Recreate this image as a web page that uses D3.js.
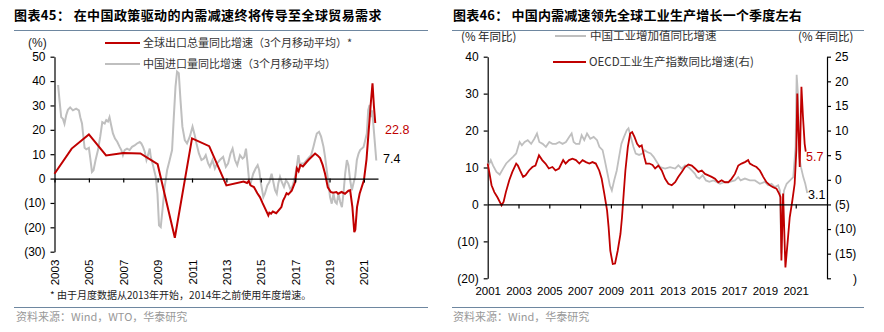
<!DOCTYPE html>
<html><head><meta charset="utf-8">
<script src="https://cdn.jsdelivr.net/npm/d3@7"></script>
<style>body{margin:0;background:#fff}</style>
</head><body>
<svg id="c" width="884" height="332"></svg>
<script>
// ---------- DATA ----------
// Left chart: global export volume yoy (3mma) — annual before 2014
const exportDates = [2003.0,2004.0,2005.0,2006.0,2007.0,2008.0,2009.0,2010.0,2011.0,2012.0,2013.0,2014.0,2014.2,2014.3,2014.4,2014.6,2014.8,2014.95,2015.1,2015.25,2015.44,2015.5,2015.6,2015.7,2015.9,2016.2,2016.3,2016.4,2016.5,2016.6,2016.8,2017.0,2017.1,2017.2,2017.3,2017.45,2017.67,2017.8,2018.16,2018.3,2018.45,2018.6,2018.74,2018.9,2019.07,2019.2,2019.4,2019.5,2019.7,2019.9,2020.1,2020.2,2020.33,2020.44,2020.5,2020.6,2020.75,2021.0,2021.15,2021.25,2021.4,2021.5,2021.58,2021.66];
const exportValues = [2,12.3,18.1,9.5,10.5,10.3,5.9,-24.3,16.5,13.3,-2.8,-1.2,-1.8,-1.0,-2.8,-3.5,-6,-7.6,-10,-12.2,-15.1,-14,-14.4,-13.5,-14.2,-11.7,-9,-7.6,-6,-6.5,-5,-1.4,4.2,3,5.6,5,6.8,7.8,10.3,9.5,8.4,5.6,2,-3.6,-5.5,-5.8,-5.5,-6.2,-5.5,-6.2,-5,-4.8,-11.7,-22,-21,-11.7,-6.2,-0.7,7.8,17,30.8,39.1,30,22.8];
// Left chart: China import volume yoy (3mma)
const importDates = [2003.21,2003.29,2003.39,2003.49,2003.58,2003.68,2003.78,2003.91,2004.07,2004.26,2004.42,2004.5,2004.6,2004.65,2004.75,2004.85,2005.0,2005.08,2005.18,2005.27,2005.39,2005.53,2005.66,2005.78,2005.92,2006.01,2006.11,2006.2,2006.3,2006.4,2006.52,2006.65,2006.79,2006.89,2006.98,2007.08,2007.22,2007.37,2007.51,2007.66,2007.8,2007.96,2008.05,2008.15,2008.25,2008.35,2008.44,2008.54,2008.6,2008.73,2008.89,2008.99,2009.08,2009.18,2009.28,2009.41,2009.55,2009.7,2009.84,2009.94,2010.04,2010.13,2010.23,2010.33,2010.44,2010.58,2010.71,2010.87,2011.03,2011.16,2011.26,2011.4,2011.55,2011.69,2011.8,2011.94,2012.04,2012.19,2012.33,2012.46,2012.62,2012.81,2012.97,2013.1,2013.24,2013.36,2013.5,2013.63,2013.79,2013.94,2014.04,2014.14,2014.21,2014.33,2014.41,2014.56,2014.7,2014.82,2014.91,2015.01,2015.15,2015.24,2015.38,2015.5,2015.63,2015.73,2015.83,2015.93,2016.02,2016.12,2016.22,2016.35,2016.47,2016.6,2016.74,2016.86,2016.99,2017.09,2017.19,2017.29,2017.38,2017.52,2017.67,2017.83,2017.93,2018.06,2018.16,2018.26,2018.39,2018.51,2018.65,2018.74,2018.84,2018.94,2019.03,2019.13,2019.23,2019.33,2019.42,2019.52,2019.62,2019.72,2019.81,2019.91,2020.01,2020.1,2020.2,2020.3,2020.39,2020.49,2020.59,2020.69,2020.78,2020.88,2020.98,2021.08,2021.17,2021.25,2021.33,2021.41,2021.48,2021.56,2021.64,2021.72];
const importValues = [38.4,32.2,25.2,24.5,22.5,26,28.2,29.2,28,28.7,28,25.2,22.6,19.2,12.6,12,12.6,8.4,2.7,3.4,7.6,11.7,17.2,23.2,22.6,24,23.4,25.2,21.8,18.5,16.4,15.1,13,11.7,9.6,11.7,12.3,11.7,13,13.6,14.4,15,14.4,13,11,7.6,9.6,12.3,8.9,5.5,0.7,-6.2,-19.2,-19.9,-13,-3.4,3.4,7.6,11.7,25.2,37.7,43.9,43.2,32.2,21.3,15.8,14.4,17.2,21.3,17.8,14.4,10.3,7.6,8.2,9.6,6.2,4.8,7.6,4.1,6.2,7.6,8.9,4.8,6.2,10.3,12.3,7.6,5.5,9.6,8.2,8.9,12.3,7.6,-1.4,-2,2,4.1,5.5,3.4,-2,-7.6,-6.2,-2.8,-1.4,2,-1.4,-4.8,-6.2,-2,0.7,-1.4,-3.4,-0.7,-2,-4.8,-2.8,0.7,4.8,9.6,4.8,6.2,6.2,7.6,8.9,9.6,13,15.8,18.5,19.2,17.2,13,8.9,3.4,-2,-7.6,-10.3,-6.2,-9.6,-10.3,-6.2,-9.6,-11.7,-6.2,2,7.6,5.5,-0.7,-4.8,-2,0.7,7.6,10.3,11.7,12.3,13,15.8,18.5,28.1,30.2,25.2,28,21.3,14.4,7.4];
// Right chart: China industrial value added yoy (left axis)
const chinaIPDates = [2001.0,2001.2,2001.35,2001.57,2001.78,2002.0,2002.2,2002.42,2002.64,2002.85,2003.07,2003.22,2003.4,2003.6,2003.82,2004.03,2004.2,2004.35,2004.57,2004.78,2005.0,2005.2,2005.43,2005.65,2005.86,2006.08,2006.3,2006.45,2006.58,2006.73,2006.95,2007.1,2007.27,2007.45,2007.66,2007.88,2008.1,2008.25,2008.46,2008.6,2008.78,2008.93,2009.06,2009.21,2009.38,2009.53,2009.68,2009.85,2010.03,2010.14,2010.29,2010.46,2010.61,2010.83,2011.04,2011.19,2011.36,2011.58,2011.77,2011.98,2012.2,2012.52,2012.84,2013.17,2013.38,2013.6,2013.81,2014.03,2014.25,2014.46,2014.57,2014.74,2014.96,2015.17,2015.39,2015.65,2015.86,2016.08,2016.4,2016.72,2017.05,2017.27,2017.42,2017.7,2018.02,2018.35,2018.67,2018.99,2019.21,2019.43,2019.64,2019.86,2019.97,2020.07,2020.15,2020.24,2020.41,2020.63,2020.84,2020.99,2021.06,2021.14,2021.23,2021.34,2021.49,2021.62,2021.75];
const chinaIPValues = [10.1,12,10.5,8.8,8.1,9.7,11.1,12,12.9,13.8,16.9,16,16.9,17.4,16.4,17.8,19.2,16.9,16.4,15.6,16.9,16.4,16.4,16.9,16.4,16.9,18.3,19.2,16.9,16.4,16.4,18.75,17.4,19.2,17.8,18.3,17.4,15.6,14.7,12,8.3,5.2,3.8,6.5,9.2,12.9,16.4,18.3,20.1,20.6,18.3,15.6,13.8,13.4,13.8,14.7,14.2,13.8,12.9,11.5,10.1,9.7,10.1,9.7,10.6,9.7,10.6,10.1,9.2,8.3,7.4,7,7.9,6.5,6.1,6.5,6.1,5.6,6.1,6.1,6.5,7.4,6.5,7,6.5,6.5,5.6,6.1,5.2,5.6,4.7,5.2,3.8,-13.3,0.2,3.8,5.6,6.5,7.4,15.6,35.1,30.1,12.9,10.1,7.4,5.6,3.1];
// Right chart: OECD industrial production index yoy (right axis)
const oecdIPDates = [2001.0,2001.1,2001.25,2001.43,2001.64,2001.9,2002.03,2002.18,2002.4,2002.6,2002.85,2002.96,2003.1,2003.3,2003.46,2003.68,2003.9,2004.1,2004.33,2004.54,2004.75,2004.97,2005.2,2005.4,2005.63,2005.9,2006.06,2006.28,2006.5,2006.73,2006.95,2007.16,2007.38,2007.6,2007.8,2008.02,2008.24,2008.4,2008.57,2008.75,2008.85,2008.96,2009.12,2009.27,2009.44,2009.62,2009.72,2009.83,2009.94,2010.1,2010.25,2010.38,2010.53,2010.7,2010.85,2011.0,2011.17,2011.28,2011.5,2011.7,2011.87,2012.08,2012.3,2012.52,2012.73,2012.95,2013.17,2013.38,2013.6,2013.81,2014.03,2014.25,2014.46,2014.68,2014.9,2015.11,2015.33,2015.54,2015.76,2015.97,2016.19,2016.4,2016.62,2016.83,2017.05,2017.27,2017.48,2017.7,2017.91,2018.02,2018.24,2018.45,2018.67,2018.89,2019.1,2019.32,2019.53,2019.75,2019.92,2020.01,2020.07,2020.18,2020.33,2020.5,2020.61,2020.78,2020.93,2021.04,2021.1,2021.26,2021.37,2021.47,2021.58,2021.65];
const oecdIPValues = [3.3,1.6,-1.1,-2.5,-3.6,-5.2,-4.5,-2.5,-0.1,1.6,3.3,2.9,1.9,0.6,0.9,1.9,2.6,2.9,5,4,3.3,2.3,2.6,1.9,2.3,4,3.3,4,4.3,4,3.3,4,3.6,3.3,3.6,3.3,1.9,0.2,-2.8,-6.2,-9.6,-14.4,-17.1,-17,-14.4,-11,-7.6,-2.8,1.9,6.7,9.4,9.7,8.7,7.3,6.7,7,4.6,3.3,3.3,3,2.3,2.9,1.9,0.2,-0.8,-1.1,-0.5,0.6,1.6,2.6,3.1,2.9,2.3,1.6,1.9,1.2,0.9,0.6,0.2,-0.5,-0.1,-0.5,-0.5,0.2,1.2,2.9,3.3,3.6,4,3.3,2.9,2.6,1.9,0.6,-0.5,-1.1,-1.5,-1.8,-2.8,-3.5,-16.4,-2.8,-17.8,-11.7,-7.6,-4.2,-0.8,6,17.5,2.6,18.9,12.8,7.3,5.7];
// Tick labels
const leftYTicks = [-30,-20,-10,0,10,20,30,40,50];
const leftXTicks = [2003,2005,2007,2009,2011,2013,2015,2017,2019,2021];
const rightYLeftTicks = [-20,-10,0,10,20,30,40];
const rightYRightTicks = [-20,-15,-10,-5,0,5,10,15,20,25];
const rightXTicks = [2001,2003,2005,2007,2009,2011,2013,2015,2017,2019,2021];

// ---------- STYLE ----------
const RED = "#c00000", GREY = "#bfbfbf", RULE = "#6e87a0";
const NUM = 'Arial,"Liberation Sans",sans-serif';
const CJK = '"Noto Sans CJK SC","Noto Sans",sans-serif';
const fmt = d => d < 0 ? `(${-d})` : `${d}`;
const svg = d3.select("#c");

function styleAxis(g){
  g.selectAll("path.domain").attr("stroke","#000").attr("stroke-width",1.2);
  g.selectAll(".tick line").attr("stroke","#000").attr("stroke-width",1.2);
  g.selectAll("text").attr("font-family",NUM).attr("font-size",12).attr("fill","#000");
}
function txt(x,y,s,opt={}){
  return svg.append("text").attr("x",x).attr("y",y).text(s)
    .attr("font-family",opt.font||CJK).attr("font-size",opt.size||11)
    .attr("font-weight",opt.weight||"normal").attr("fill",opt.fill||"#333")
    .attr("text-anchor",opt.anchor||"start")
    .attr("letter-spacing",opt.ls||0);
}

// ---------- TITLES / FOOTERS ----------
txt(14,20,"图表45： 在中国政策驱动的内需减速终将传导至全球贸易需求",{size:13,weight:"bold",fill:"#000",ls:0.4});
txt(453,20,"图表46： 中国内需减速领先全球工业生产增长一个季度左右",{size:13,weight:"bold",fill:"#000",ls:0.2});
[[14,428,30.5],[452,864,30.5],[14,428,307.5],[452,864,307.5]].forEach(([a,b,y])=>{
  svg.append("line").attr("x1",a).attr("x2",b).attr("y1",y).attr("y2",y).attr("stroke",RULE).attr("stroke-width",1);
});
txt(50,299,"* 由于月度数据从2013年开始，2014年之前使用年度增速。",{size:10,fill:"#222"});
txt(16,321,"资料来源：Wind，WTO，华泰研究",{size:11,fill:"#999"});
txt(453,321,"资料来源：Wind，华泰研究",{size:11,fill:"#999"});

// ---------- LEFT CHART ----------
const xL = d3.scaleLinear().domain([2003, 2021.82]).range([54.5, 378]);
const yL = d3.scaleLinear().domain([-30, 50]).range([251.7, 56.7]);
const line = (x,y) => d3.line().x(d=>x(d[0])).y(d=>y(d[1]));

svg.append("g").attr("transform","translate(54.5,0)")
  .call(d3.axisLeft(yL).tickValues(leftYTicks).tickFormat(fmt).tickSize(4).tickPadding(5).tickSizeOuter(0))
  .call(styleAxis);

svg.append("path").datum(d3.zip(importDates,importValues))
  .attr("d",line(xL,yL)).attr("fill","none").attr("stroke",GREY).attr("stroke-width",2);
svg.append("path").datum(d3.zip(exportDates,exportValues))
  .attr("d",line(xL,yL)).attr("fill","none").attr("stroke",RED).attr("stroke-width",2);

svg.append("g").attr("transform",`translate(0,${yL(0)})`)
  .call(d3.axisBottom(xL).tickValues(leftXTicks).tickSize(4).tickFormat("").tickSizeOuter(0))
  .call(styleAxis);
const lx = svg.append("g").attr("transform",`translate(0,${yL(-30)})`)
  .call(d3.axisBottom(xL).tickValues(leftXTicks).tickFormat(d3.format("d")).tickSize(0))
  .call(styleAxis);
lx.select("path.domain").remove();
lx.selectAll("text").attr("transform","rotate(-90)").attr("text-anchor","end")
  .attr("x",-8).attr("y",0).attr("dy","0.35em").attr("font-size",11.5);

txt(28,47,"(%)",{size:12,font:NUM,fill:"#222"});
svg.append("line").attr("x1",105).attr("x2",140).attr("y1",43).attr("y2",43).attr("stroke",RED).attr("stroke-width",2);
txt(143,47,"全球出口总量同比增速（3个月移动平均）*",{size:11});
svg.append("line").attr("x1",105).attr("x2",140).attr("y1",64).attr("y2",64).attr("stroke",GREY).attr("stroke-width",2);
txt(143,68,"中国进口量同比增速（3个月移动平均）",{size:11});

txt(385,134,d3.format(".1f")(exportValues[exportValues.length-1]),{font:NUM,size:12.5,fill:RED});
txt(383,163,d3.format(".1f")(importValues[importValues.length-1]),{font:NUM,size:12.5,fill:"#000"});

// ---------- RIGHT CHART ----------
const xR = d3.scaleLinear().domain([2001, 2023.03]).range([487.7, 827]);
const yRL = d3.scaleLinear().domain([-20, 40]).range([278.3, 56.7]);
const yRR = d3.scaleLinear().domain([-20, 25]).range([278.3, 56.7]);

svg.append("g").attr("transform","translate(487.7,0)")
  .call(d3.axisLeft(yRL).tickValues(rightYLeftTicks).tickFormat(fmt).tickSize(4).tickPadding(5).tickSizeOuter(0))
  .call(styleAxis);
const rAx = svg.append("g").attr("transform","translate(827,0)")
  .call(d3.axisRight(yRR).tickValues(rightYRightTicks).tickFormat(fmt).tickSize(4).tickPadding(4).tickSizeOuter(0))
  .call(styleAxis);
// the lowest right-hand label is cut off in the original, only ")" remains
rAx.selectAll(".tick").filter(d=>d===-20).select("text").text(")").attr("x",26);

svg.append("path").datum(d3.zip(chinaIPDates,chinaIPValues))
  .attr("d",line(xR,yRL)).attr("fill","none").attr("stroke",GREY).attr("stroke-width",1.8);
svg.append("path").datum(d3.zip(oecdIPDates,oecdIPValues))
  .attr("d",line(xR,yRR)).attr("fill","none").attr("stroke",RED).attr("stroke-width",1.8);

svg.append("g").attr("transform",`translate(0,${yRL(0)})`)
  .call(d3.axisBottom(xR).tickValues(rightXTicks.slice(1)).tickSize(4).tickFormat("").tickSizeOuter(0))
  .call(styleAxis);
const rx = svg.append("g").attr("transform",`translate(0,${yRL(-20)})`)
  .call(d3.axisBottom(xR).tickValues(rightXTicks).tickFormat(d3.format("d")).tickSize(0).tickPadding(9))
  .call(styleAxis);
rx.select("path.domain").remove();
rx.selectAll("text").attr("font-size",11.5);

txt(461,41,"(% 年同比)",{size:11.5,fill:"#222"});
txt(798,41,"(% 年同比)",{size:11.5,fill:"#222"});
svg.append("line").attr("x1",555).attr("x2",586).attr("y1",36).attr("y2",36).attr("stroke",GREY).attr("stroke-width",2);
txt(590,40,"中国工业增加值同比增速",{size:11.5});
svg.append("line").attr("x1",553).attr("x2",586).attr("y1",62).attr("y2",62).attr("stroke",RED).attr("stroke-width",2);
txt(589,66,"OECD工业生产指数同比增速(右)",{size:11.5});

txt(806,161,d3.format(".1f")(oecdIPValues[oecdIPValues.length-1]),{font:NUM,size:12.5,fill:RED});
txt(808,199,d3.format(".1f")(chinaIPValues[chinaIPValues.length-1]),{font:NUM,size:12.5,fill:"#000"});
</script>
</body></html>
